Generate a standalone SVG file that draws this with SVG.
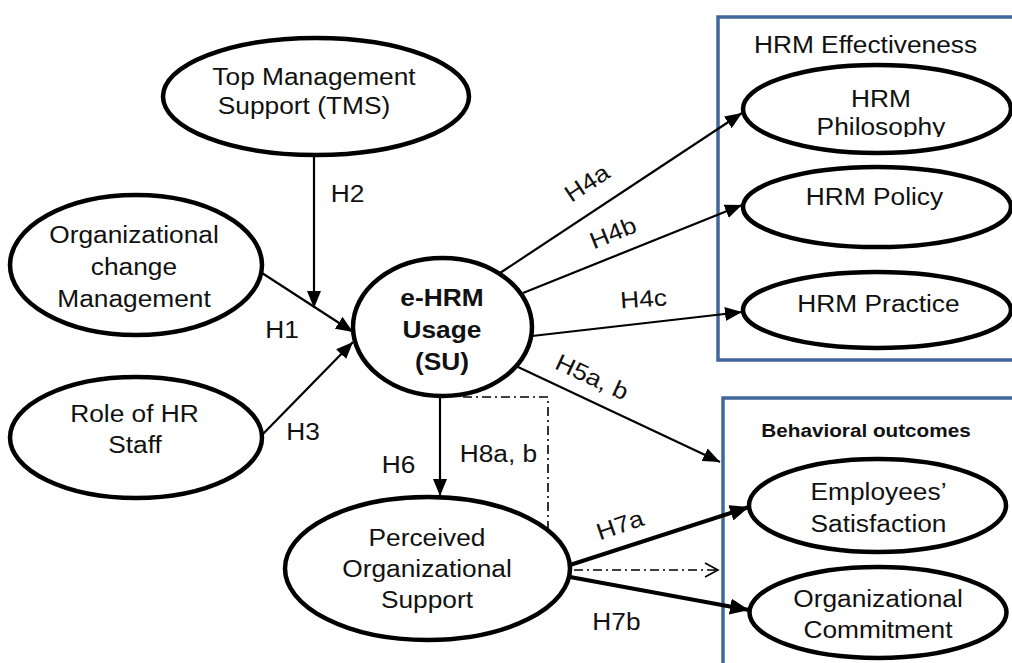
<svg xmlns="http://www.w3.org/2000/svg" width="1012" height="663" viewBox="0 0 1012 663">
  <style>
    .node { fill: #ffffff; stroke: #000000; stroke-width: 4.5; }
    .frame { fill: none; stroke: #42679b; stroke-width: 3.5; }
    .txt { font-family: "Liberation Sans", Arial, sans-serif; font-size: 23.5px; fill: #111111; text-anchor: middle;
           transform-box: fill-box; transform-origin: center; transform: scaleX(1.12); }
    .bold { font-weight: bold; }
    .small { font-size: 18.5px; }
    .edge { fill: none; stroke: #000000; stroke-width: 2.2; }
    .thick { fill: none; stroke: #000000; stroke-width: 4; }
    .dashdot { fill: none; stroke: #000000; stroke-width: 1.6; stroke-dasharray: 9 4 2 4; }
  </style>
  <defs>
    <marker id="arrow" markerUnits="userSpaceOnUse" markerWidth="18" markerHeight="14" refX="17" refY="7" orient="auto">
      <path d="M0,0 L17,7 L0,14 z" fill="#000000"/>
    </marker>
    <marker id="arrowBig" markerUnits="userSpaceOnUse" markerWidth="20" markerHeight="16" refX="19" refY="8" orient="auto">
      <path d="M0,0 L19,8 L0,16 z" fill="#000000"/>
    </marker>
    <marker id="openArrow" markerUnits="userSpaceOnUse" markerWidth="16" markerHeight="16" refX="14" refY="8" orient="auto">
      <path d="M1,1 L14,8 L1,15" fill="none" stroke="#000000" stroke-width="1.6"/>
    </marker>
    <clipPath id="philClip">
      <rect x="740" y="60" width="280" height="77"/>
    </clipPath>
  </defs>

  <!-- outcome frames -->
  <g id="frame-hrm-effectiveness">
    <rect class="frame" x="718" y="17" width="310" height="343"/>
    <text class="txt" x="865.5" y="53">HRM Effectiveness</text>
  </g>
  <g id="frame-behavioral">
    <rect class="frame" x="723" y="398" width="310" height="290"/>
    <text class="txt bold small" x="866" y="437">Behavioral outcomes</text>
  </g>

  <!-- connectors -->
  <g id="connectors">
    <line class="edge" x1="262" y1="273" x2="353" y2="332" marker-end="url(#arrow)"/>
    <line class="edge" x1="314" y1="155" x2="314" y2="308" marker-end="url(#arrow)"/>
    <line class="edge" x1="262" y1="435" x2="353" y2="342" marker-end="url(#arrow)"/>
    <line class="edge" x1="500" y1="273" x2="742" y2="113" marker-end="url(#arrow)"/>
    <line class="edge" x1="523" y1="293" x2="742" y2="205" marker-end="url(#arrow)"/>
    <line class="edge" x1="532" y1="336" x2="742" y2="312" marker-end="url(#arrow)"/>
    <line class="edge" x1="518" y1="367" x2="720" y2="462" marker-end="url(#arrow)"/>
    <line class="edge" x1="440" y1="396" x2="440" y2="496" marker-end="url(#arrow)"/>
    <path class="dashdot" d="M463,397 H548 V529"/>
    <line class="thick" x1="570" y1="565" x2="749" y2="507" marker-end="url(#arrowBig)"/>
    <line class="thick" x1="570" y1="577" x2="749" y2="610" marker-end="url(#arrowBig)"/>
    <line class="dashdot" x1="574" y1="570" x2="718" y2="570" marker-end="url(#openArrow)"/>
  </g>

  <!-- hypothesis labels -->
  <g id="labels">
    <text class="txt" x="347.5" y="202">H2</text>
    <text class="txt" x="282" y="338">H1</text>
    <text class="txt" x="303" y="440">H3</text>
    <text class="txt" x="398.5" y="473">H6</text>
    <text class="txt" x="498.5" y="462">H8a, b</text>
    <text class="txt" x="616.5" y="630">H7b</text>
    <g transform="translate(643.5,299) rotate(-4)"><text class="txt" x="0" y="8">H4c</text></g>
    <g transform="translate(587,183) rotate(-33.5)"><text class="txt" x="0" y="8">H4a</text></g>
    <g transform="translate(613,233) rotate(-22)"><text class="txt" x="0" y="8">H4b</text></g>
    <g transform="translate(592,377) rotate(25)"><text class="txt" x="0" y="8">H5a, b</text></g>
    <g transform="translate(620,525) rotate(-19)"><text class="txt" x="0" y="8">H7a</text></g>
  </g>

  <!-- nodes -->
  <g id="node-tms">
    <ellipse class="node" cx="316" cy="96.5" rx="153" ry="58.5"/>
    <text class="txt" x="314" y="85">Top Management</text>
    <text class="txt" x="304" y="114">Support (TMS)</text>
  </g>
  <g id="node-ocm">
    <ellipse class="node" cx="136" cy="265" rx="126" ry="70"/>
    <text class="txt" x="134" y="243">Organizational</text>
    <text class="txt" x="134" y="275">change</text>
    <text class="txt" x="134" y="307">Management</text>
  </g>
  <g id="node-hr-staff">
    <ellipse class="node" cx="136" cy="437.5" rx="126" ry="60.5"/>
    <text class="txt" x="134.5" y="422">Role of HR</text>
    <text class="txt" x="135" y="453">Staff</text>
  </g>
  <g id="node-ehrm">
    <ellipse class="node" cx="442.5" cy="327" rx="89.5" ry="69"/>
    <text class="txt bold" x="442" y="306">e-HRM</text>
    <text class="txt bold" x="442" y="338">Usage</text>
    <text class="txt bold" x="442" y="370">(SU)</text>
  </g>
  <g id="node-pos">
    <ellipse class="node" cx="427.5" cy="568.5" rx="142.5" ry="71.5"/>
    <text class="txt" x="427" y="546">Perceived</text>
    <text class="txt" x="427" y="577">Organizational</text>
    <text class="txt" x="427" y="608">Support</text>
  </g>
  <g id="node-philosophy">
    <ellipse class="node" cx="877" cy="109" rx="134" ry="44"/>
    <g clip-path="url(#philClip)">
      <text class="txt" x="881" y="107">HRM</text>
      <text class="txt" x="881" y="135">Philosophy</text>
    </g>
  </g>
  <g id="node-policy">
    <ellipse class="node" cx="877" cy="207" rx="134" ry="40"/>
    <text class="txt" x="874.5" y="205">HRM Policy</text>
  </g>
  <g id="node-practice">
    <ellipse class="node" cx="877" cy="310" rx="134" ry="38"/>
    <text class="txt" x="878.5" y="312">HRM Practice</text>
  </g>
  <g id="node-satisfaction">
    <ellipse class="node" cx="877.5" cy="505.5" rx="128.5" ry="46.5"/>
    <text class="txt" x="878.5" y="500">Employees’</text>
    <text class="txt" x="878.5" y="532">Satisfaction</text>
  </g>
  <g id="node-commitment">
    <ellipse class="node" cx="878" cy="612.5" rx="128.5" ry="45.5"/>
    <text class="txt" x="878" y="607">Organizational</text>
    <text class="txt" x="878" y="638">Commitment</text>
  </g>
</svg>
